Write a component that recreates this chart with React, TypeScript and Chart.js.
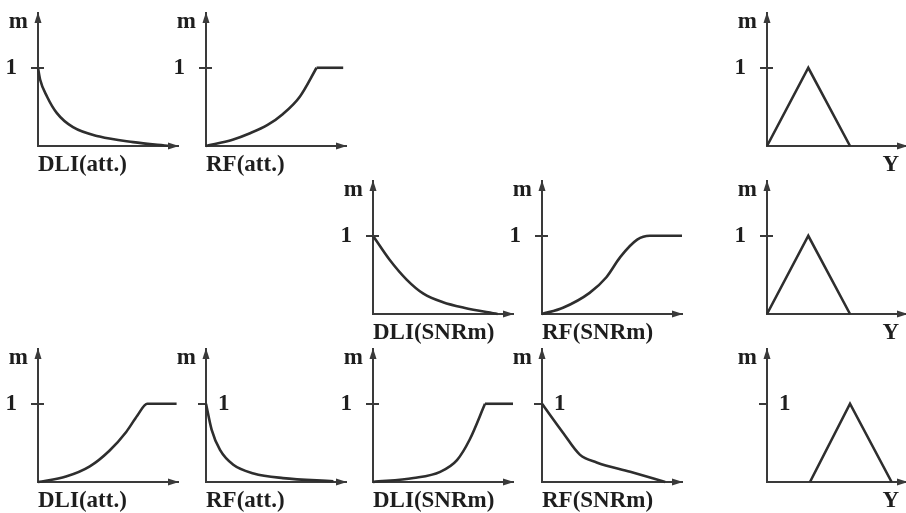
import React, { useEffect, useRef } from "react";
import { Chart, registerables } from "chart.js";

Chart.register(...registerables);

// ---------- data (membership-function shapes) ----------
const yTickValues = [1];
const xDomain = [0, 10];
const yDomain = [0, 1.7];

// Row 1
const attDecayX = [0, 0.15, 0.65, 1.35, 2.5, 4.4, 6.8, 9.4];
const attDecayY = [1, 0.85, 0.63, 0.42, 0.24, 0.12, 0.05, 0];
const attRiseX = [0, 1.9, 3.1, 4.4, 5.5, 6.7, 7.9];
const attRiseY = [0, 0.08, 0.16, 0.27, 0.41, 0.63, 1];
const attRiseFlatX = [7.9, 9.8];
const attRiseFlatY = [1, 1];
const triX = [0, 2.95, 5.93];
const triY = [0, 1, 0];

// Row 2
const snrDecayX = [0, 1.2, 2.4, 3.6, 5.0, 6.5, 8.9];
const snrDecayY = [1, 0.69, 0.44, 0.26, 0.15, 0.08, 0];
const snrRiseX = [0, 1.5, 3.4, 4.6, 5.6, 6.8, 7.7, 10];
const snrRiseY = [0, 0.08, 0.27, 0.47, 0.73, 0.95, 1, 1];

// Row 3
const attRise2X = [0, 2.0, 3.7, 5.1, 6.3, 7.1, 7.8, 9.9];
const attRise2Y = [0, 0.07, 0.2, 0.4, 0.64, 0.85, 1, 1];
const attDecay2X = [0, 0.4, 1, 1.95, 3.4, 5.5, 9.1];
const attDecay2Y = [1, 0.67, 0.41, 0.22, 0.11, 0.05, 0.01];
const snrRise2X = [0, 2.9, 4.8, 6, 6.9, 8];
const snrRise2Y = [0, 0.05, 0.13, 0.28, 0.54, 1];
const snrRise2FlatX = [8, 10];
const snrRise2FlatY = [1, 1];
const snrDecay2X = [0, 1.5, 2.7, 3.9, 6.3, 8.8];
const snrDecay2Y = [1, 0.63, 0.35, 0.25, 0.13, 0];
const triShiftX = [3.07, 5.93, 8.9];
const triShiftY = [0, 1, 0];

const labelDliAtt = "DLI(att.)";
const labelRfAtt = "RF(att.)";
const labelDliSnr = "DLI(SNRm)";
const labelRfSnr = "RF(SNRm)";
const labelY = "Y";
const labelM = "m";

// ---------- layout / style ----------
const colX = [38, 206, 373, 542, 767];
const rowY = [146, 314, 482];
const AXIS_W = 38;
const AREA_W = 140;
const AREA_H = 133;
const PAD_TOP = 4;
const PAD_RIGHT = 4;
const XAXIS_H = 32;
const axisColor = "#3a3a3a";
const lineColor = "#2e2e2e";
const textColor = "#1e1e1e";
const fontFamily = '"Liberation Serif", "DejaVu Serif", serif';
const FONT_SIZE = 23;

type Series = { xs: number[]; ys: number[]; curve: boolean };
type Panel = {
  col: number;
  row: number;
  label: string;
  align: "start" | "end";
  mirror: boolean;
  series: Series[];
};

const panels: Panel[] = [
  { col: 0, row: 0, label: labelDliAtt, align: "start", mirror: false, series: [{ xs: attDecayX, ys: attDecayY, curve: true }] },
  {
    col: 1, row: 0, label: labelRfAtt, align: "start", mirror: false,
    series: [
      { xs: attRiseX, ys: attRiseY, curve: true },
      { xs: attRiseFlatX, ys: attRiseFlatY, curve: false },
    ],
  },
  { col: 4, row: 0, label: labelY, align: "end", mirror: false, series: [{ xs: triX, ys: triY, curve: false }] },
  { col: 2, row: 1, label: labelDliSnr, align: "start", mirror: false, series: [{ xs: snrDecayX, ys: snrDecayY, curve: true }] },
  { col: 3, row: 1, label: labelRfSnr, align: "start", mirror: false, series: [{ xs: snrRiseX, ys: snrRiseY, curve: true }] },
  { col: 4, row: 1, label: labelY, align: "end", mirror: false, series: [{ xs: triX, ys: triY, curve: false }] },
  { col: 0, row: 2, label: labelDliAtt, align: "start", mirror: false, series: [{ xs: attRise2X, ys: attRise2Y, curve: true }] },
  { col: 1, row: 2, label: labelRfAtt, align: "start", mirror: true, series: [{ xs: attDecay2X, ys: attDecay2Y, curve: true }] },
  {
    col: 2, row: 2, label: labelDliSnr, align: "start", mirror: false,
    series: [
      { xs: snrRise2X, ys: snrRise2Y, curve: true },
      { xs: snrRise2FlatX, ys: snrRise2FlatY, curve: false },
    ],
  },
  { col: 3, row: 2, label: labelRfSnr, align: "start", mirror: true, series: [{ xs: snrDecay2X, ys: snrDecay2Y, curve: true }] },
  { col: 4, row: 2, label: labelY, align: "end", mirror: true, series: [{ xs: triShiftX, ys: triShiftY, curve: false }] },
];

const decorPlugin = {
  id: "decor",
  afterDraw(chart: any, _args: any, opts: any) {
    const { ctx, chartArea, scales } = chart;
    const { left, right, top, bottom } = chartArea;
    ctx.save();
    ctx.fillStyle = axisColor;
    // x arrow head
    ctx.beginPath();
    ctx.moveTo(right + 1, bottom);
    ctx.lineTo(right - 10, bottom - 3.5);
    ctx.lineTo(right - 10, bottom + 3.5);
    ctx.closePath();
    ctx.fill();
    // y arrow head
    ctx.beginPath();
    ctx.moveTo(left, top - 1);
    ctx.lineTo(left - 3.5, top + 10);
    ctx.lineTo(left + 3.5, top + 10);
    ctx.closePath();
    ctx.fill();
    // tick crossing the axis
    if (!opts.mirror) {
      ctx.strokeStyle = axisColor;
      ctx.lineWidth = 2;
      yTickValues.forEach((v) => {
        const y = Math.round(scales.y.getPixelForValue(v));
        ctx.beginPath();
        ctx.moveTo(left, y);
        ctx.lineTo(left + 6, y);
        ctx.stroke();
      });
    }
    // axis labels
    ctx.font = `bold ${FONT_SIZE}px ${fontFamily}`;
    ctx.fillStyle = textColor;
    ctx.textBaseline = "middle";
    ctx.textAlign = "right";
    ctx.fillText(labelM, left - 10, top + 9);
    if (opts.align === "end") {
      ctx.textAlign = "right";
      ctx.fillText(opts.label, right - 8, bottom + 19);
    } else {
      ctx.textAlign = "left";
      ctx.fillText(opts.label, left, bottom + 19);
    }
    ctx.restore();
  },
};

function MiniChart({ panel }: { panel: Panel }) {
  const ref = useRef<HTMLCanvasElement | null>(null);
  const width = AXIS_W + AREA_W + PAD_RIGHT;
  const height = PAD_TOP + AREA_H + XAXIS_H;
  const x0 = colX[panel.col];
  const y0 = rowY[panel.row];

  useEffect(() => {
    if (!ref.current) return;
    const chart = new Chart(ref.current, {
      type: "line",
      data: {
        datasets: panel.series.map((s) => ({
          data: s.xs.map((x, i) => ({ x, y: s.ys[i] })),
          borderColor: lineColor,
          borderWidth: 2.6,
          pointRadius: 0,
          fill: false,
          tension: 0,
          cubicInterpolationMode: s.curve ? "monotone" : "default",
          borderJoinStyle: "miter",
          clip: 6,
        })),
      },
      options: {
        animation: false,
        responsive: false,
        devicePixelRatio: 1,
        events: [],
        layout: { padding: { left: 0, top: PAD_TOP, right: PAD_RIGHT, bottom: 0 } },
        plugins: {
          legend: { display: false },
          tooltip: { enabled: false },
          decor: { label: panel.label, align: panel.align, mirror: panel.mirror },
        },
        scales: {
          x: {
            type: "linear",
            min: xDomain[0],
            max: xDomain[1],
            afterFit: (s: any) => {
              s.height = XAXIS_H;
              s.paddingLeft = 0;
              s.paddingRight = 0;
              s.paddingTop = 0;
              s.paddingBottom = 0;
            },
            ticks: { display: false },
            grid: { display: false },
            border: { display: true, color: axisColor, width: 2 },
          },
          y: {
            type: "linear",
            min: yDomain[0],
            max: yDomain[1],
            afterFit: (s: any) => {
              s.width = AXIS_W;
              s.paddingLeft = 0;
              s.paddingRight = 0;
              s.paddingTop = 0;
              s.paddingBottom = 0;
            },
            afterBuildTicks: (s: any) => {
              s.ticks = yTickValues.map((v) => ({ value: v }));
            },
            ticks: {
              mirror: panel.mirror,
              padding: panel.mirror ? 12 : 14,
              color: textColor,
              font: { family: fontFamily, size: FONT_SIZE, weight: "bold" },
              callback: (v: any) => String(v),
            },
            grid: {
              display: true,
              drawOnChartArea: false,
              drawTicks: true,
              tickLength: panel.mirror ? 8 : 7,
              color: axisColor,
              lineWidth: 2,
            },
            border: { display: true, color: axisColor, width: 2 },
          },
        },
      } as any,
      plugins: [decorPlugin as any],
    });
    return () => chart.destroy();
  }, [panel]);

  return (
    <canvas
      ref={ref}
      width={width}
      height={height}
      style={{
        position: "absolute",
        left: x0 - AXIS_W,
        top: y0 - AREA_H - PAD_TOP,
        width,
        height,
      }}
    />
  );
}

export default function App() {
  return (
    <div
      style={{
        position: "absolute",
        left: 0,
        top: 0,
        width: 906,
        height: 513,
        overflow: "hidden",
        background: "#ffffff",
      }}
    >
      {panels.map((p, i) => (
        <MiniChart key={i} panel={p} />
      ))}
    </div>
  );
}
